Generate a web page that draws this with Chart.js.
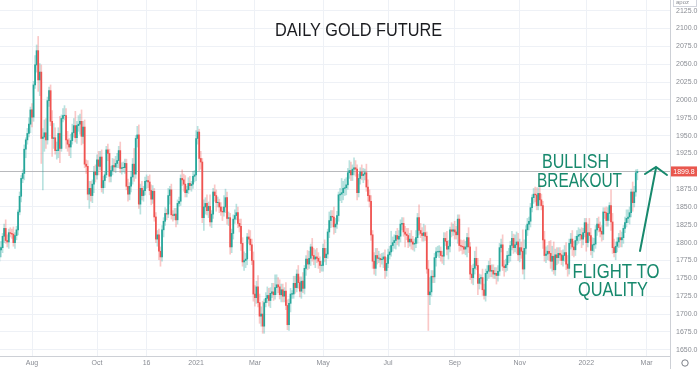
<!DOCTYPE html>
<html>
<head>
<meta charset="utf-8">
<script src="https://cdn.jsdelivr.net/npm/chart.js@4/dist/chart.umd.min.js"></script>
<style>
  body { margin: 0; background: #fff; }
  canvas { display: block; }
</style>
</head>
<body>
<canvas id="goldChart" width="700" height="369"></canvas>
<script>
// daily closes, one trading day per entry (Jul 1 2020 .. Feb 18 2022)
const closes = [
  // 2020 Jul
  1780,1790,1793,1809,1820,1803,1801,1814,1813,1812,1800,1810,1818,1843,1865,1890,1897,1931,1944,1953,1966,1986,
  // Aug
  1976,2021,2049,2069,2028,2039,1946,1948,1954,1944,1999,2013,1970,1946,1947,1929,1929,1953,1932,1974,1978,
  // Sep
  1978,1944,1938,1934,1943,1954,1964,1947,1964,1966,1970,1949,1962,1910,1907,1868,1876,1866,1882,1899,1895,
  // Oct
  1916,1907,1920,1877,1887,1895,1930,1925,1893,1901,1908,1906,1911,1915,1929,1904,1905,1905,1911,1879,1868,1879,
  // Nov
  1892,1910,1896,1946,1951,1854,1876,1866,1873,1886,1887,1885,1873,1861,1872,1836,1805,1811,1788,1780,
  // Dec
  1818,1830,1841,1840,1866,1874,1839,1838,1840,1832,1855,1858,1890,1888,1882,1870,1874,1883,1880,1882,1893,1895,
  // 2021 Jan
  1946,1955,1918,1913,1835,1850,1855,1845,1851,1829,1840,1871,1866,1856,1856,1850,1844,1843,1850,
  // Feb
  1863,1834,1835,1794,1813,1833,1838,1842,1827,1823,1799,1773,1775,1777,1808,1805,1797,1775,1728,
  // Mar
  1723,1738,1716,1697,1700,1683,1716,1722,1726,1719,1729,1731,1727,1737,1741,1738,1727,1734,1725,1732,1712,1685,1715,
  // Apr
  1728,1728,1743,1737,1756,1744,1732,1746,1736,1764,1777,1770,1778,1794,1782,1777,1780,1778,1774,1768,1768,
  // May
  1792,1779,1784,1815,1831,1837,1836,1822,1826,1838,1867,1868,1870,1876,1877,1881,1898,1901,1895,1903,
  // Jun
  1905,1903,1870,1890,1899,1894,1896,1898,1878,1866,1858,1811,1774,1764,1782,1778,1778,1776,1777,1780,1761,1771,
  // Jul
  1783,1787,1796,1800,1803,1810,1805,1809,1826,1827,1815,1812,1810,1801,1805,1801,1798,1799,1807,1835,1817,
  // Aug
  1813,1810,1814,1809,1763,1727,1731,1753,1752,1779,1787,1787,1788,1782,1781,1806,1802,1791,1795,1818,1816,1818,
  // Sep
  1815,1811,1833,1796,1795,1794,1791,1794,1807,1794,1756,1751,1764,1778,1768,1743,1750,1751,1734,1726,1757,
  // Oct
  1760,1768,1760,1761,1756,1757,1754,1760,1793,1797,1767,1765,1769,1782,1782,1796,1806,1793,1797,1801,1783,
  // Nov
  1793,1788,1763,1792,1818,1826,1830,1849,1863,1868,1867,1852,1869,1860,1852,1804,1782,1784,1788,1785,1774,
  // Dec
  1781,1762,1783,1779,1785,1783,1775,1782,1786,1770,1764,1799,1805,1794,1790,1803,1809,1811,1811,1805,1814,1828,
  // 2022 Jan
  1800,1814,1810,1789,1797,1798,1818,1826,1821,1816,1812,1843,1842,1831,1841,1852,1829,1793,1786,1795,
  // Feb
  1801,1807,1804,1807,1820,1828,1834,1836,1842,1871,1856,1871,1898,1899.8
];
const firstOpen = 1782;

// wick length above / below the body, same order as closes
const wickUp = [
  6,5,9,4,6,12,8,5,7,6,10,4,5,3,6,4,5,6,3,7,9,4,
  9,5,13,8,20,12,10,12,18,20,5,5,8,15,20,14,12,8,24,5,10,
  14,10,12,8,9,12,10,20,6,12,10,16,8,10,6,8,10,10,6,8,10,
  7,12,8,10,6,5,5,8,6,6,10,9,10,10,6,12,7,8,6,6,10,5,
  8,8,22,4,12,14,6,10,6,6,8,6,10,8,8,4,6,6,8,6,
  6,5,8,6,10,5,8,6,8,8,5,6,5,12,8,12,5,8,10,4,7,6,
  11,8,4,10,5,10,8,12,6,16,5,5,10,8,8,5,6,6,16,
  12,8,8,6,6,6,8,12,8,6,10,8,12,8,5,10,12,8,12,
  12,8,16,12,10,18,5,8,12,10,8,12,12,18,14,10,10,8,8,5,12,8,6,
  8,5,10,10,6,12,8,6,12,4,5,12,10,4,12,10,10,12,8,6,6,
  6,12,8,4,12,8,8,14,8,6,4,8,20,10,12,10,6,14,12,6,
  14,10,6,6,6,10,8,5,12,10,8,8,6,12,10,10,10,6,8,6,10,8,
  8,8,20,8,8,6,10,8,6,8,8,8,8,10,8,12,8,6,10,6,18,
  10,8,12,10,6,12,20,8,8,6,6,8,8,6,6,8,8,14,8,4,10,8,
  12,8,6,6,8,8,10,8,6,14,6,12,6,10,16,10,6,4,12,8,6,
  8,6,10,8,8,8,8,8,6,8,14,8,8,6,10,6,10,6,14,14,12,
  12,8,30,12,6,8,6,6,4,8,10,10,8,12,8,6,12,10,8,14,18,
  14,20,8,10,8,8,6,8,10,14,12,6,8,12,8,6,8,10,8,10,6,6,
  6,12,20,10,10,8,6,8,10,8,8,6,6,8,8,4,22,12,12,6,
  6,6,10,8,4,8,12,10,8,4,14,8,4,3
];
const wickDown = [
  8,6,10,7,9,4,7,9,5,6,5,8,6,7,4,8,6,9,12,6,5,12,
  14,6,5,10,16,22,35,72,20,12,6,8,6,25,14,5,12,10,20,4,5,
  6,12,10,12,15,5,6,6,8,8,14,12,10,5,10,8,20,8,10,12,10,
  6,12,5,6,8,10,4,10,8,8,6,6,8,6,10,6,8,6,8,5,10,8,
  8,10,10,6,12,6,14,6,8,6,10,8,6,8,6,6,5,10,12,13,
  6,10,6,8,5,12,6,8,6,10,6,4,6,8,10,6,6,5,6,8,6,8,
  8,8,17,10,7,18,10,6,10,6,8,6,8,12,6,8,6,12,6,
  8,8,10,10,8,8,6,6,6,8,10,6,12,10,8,6,8,6,10,
  12,8,6,10,14,10,10,6,6,8,10,6,8,6,10,8,6,10,8,8,6,7,8,
  12,6,6,8,6,8,8,10,6,8,10,8,6,10,8,8,12,6,10,10,8,
  8,6,10,6,8,10,14,10,8,6,8,8,12,10,10,10,6,8,8,8,
  8,10,10,6,8,6,10,8,6,8,8,8,10,8,10,8,6,10,6,12,11,8,
  6,6,6,8,8,12,8,10,8,8,6,18,6,8,6,10,8,10,6,8,6,
  6,8,8,6,6,50,14,6,8,8,12,6,8,8,10,12,6,8,14,8,8,6,
  10,6,12,8,6,10,6,8,14,8,8,8,10,8,6,16,8,8,8,5,8,
  10,10,8,8,6,6,12,8,6,6,6,12,6,8,10,8,6,8,6,12,8,
  10,10,7,14,8,8,8,8,6,8,10,6,6,8,6,12,8,10,8,10,10,
  14,6,8,10,8,8,6,8,8,8,11,8,8,12,10,8,6,10,8,12,8,6,
  12,6,8,6,10,10,6,8,6,8,10,8,8,8,8,10,12,8,6,10,
  8,8,10,10,8,6,6,6,10,6,12,6,6,10
];

// x tick labels at trading-day index
const tickIdx = [22, 64, 96, 128, 166, 210, 252, 295, 337, 380, 419];
const tickNames = ['Aug', 'Oct', '16', '2021', 'Mar', 'May', 'Jul', 'Sep', 'Nov', '2022', 'Mar'];
const priceTicks = [1650,1675,1700,1725,1750,1775,1800,1825,1850,1875,1900,1925,1950,1975,2000,2025,2050,2075,2100,2125];
const lastPrice = closes[closes.length - 1];

const UP = '#26a69a';
const DOWN = '#ef5350';
const TEAL = '#17896d';
const FONT = '"Liberation Sans", Arial, sans-serif';

const bodies = [];
const wicks = [];
const bodyColors = [];
const wickColors = [];
closes.forEach(function (c, i) {
  const o = i === 0 ? firstOpen : closes[i - 1];
  const hi = Math.max(o, c) + wickUp[i];
  const lo = Math.min(o, c) - wickDown[i];
  bodies.push({ x: i, y: [o, c === o ? c + 0.6 : c] });
  wicks.push({ x: i, y: [lo, hi] });
  const up = c >= o;
  bodyColors.push(up ? UP : DOWN);
  wickColors.push(up ? 'rgba(38,166,154,0.32)' : 'rgba(239,83,80,0.32)');
});

function fitText(ctx, text, cx, baseline, width, size, color) {
  ctx.save();
  ctx.font = size + 'px ' + FONT;
  const w = ctx.measureText(text).width;
  ctx.translate(cx, baseline);
  ctx.scale(width / w, 1);
  ctx.textAlign = 'center';
  ctx.textBaseline = 'alphabetic';
  ctx.fillStyle = color;
  ctx.fillText(text, 0, 0);
  ctx.restore();
}

const overlay = {
  id: 'overlay',
  beforeDatasetsDraw(chart) {
    const { ctx, chartArea, scales } = chart;
    const y = Math.round(scales.y.getPixelForValue(lastPrice)) + 0.5;
    ctx.save();
    ctx.strokeStyle = 'rgba(130,130,130,0.5)';
    ctx.lineWidth = 1;
    ctx.beginPath();
    ctx.moveTo(chartArea.left, y);
    ctx.lineTo(chartArea.right, y);
    ctx.stroke();
    ctx.restore();
  },
  afterDraw(chart) {
    const { ctx, chartArea, scales } = chart;
    ctx.save();
    // frame
    ctx.strokeStyle = '#cdd0d6';
    ctx.lineWidth = 1;
    ctx.beginPath();
    ctx.moveTo(chartArea.right + 0.5, 0);
    ctx.lineTo(chartArea.right + 0.5, chart.height);
    ctx.moveTo(0, chartArea.bottom + 0.5);
    ctx.lineTo(chartArea.right, chartArea.bottom + 0.5);
    ctx.stroke();

    // last price tag
    const py = scales.y.getPixelForValue(lastPrice);
    ctx.fillStyle = '#e9574e';
    ctx.fillRect(chartArea.right + 1, py - 5, 26, 10);
    ctx.fillStyle = '#fff';
    ctx.font = '7px ' + FONT;
    ctx.textAlign = 'center';
    ctx.textBaseline = 'middle';
    ctx.fillText(lastPrice.toFixed(1), chartArea.right + 14, py + 0.5);

    // currency box (cut off at top)
    ctx.strokeStyle = '#d1d4dc';
    ctx.strokeRect(673.5, -4.5, 23, 11);
    ctx.fillStyle = '#8a8d94';
    ctx.font = '6px ' + FONT;
    ctx.textAlign = 'left';
    ctx.textBaseline = 'alphabetic';
    ctx.fillText('apoz', 676, 4);

    // settings circle
    ctx.strokeStyle = '#7b7e86';
    ctx.beginPath();
    ctx.arc(685, 363, 3.2, 0, Math.PI * 2);
    ctx.stroke();

    // title + notes
    fitText(ctx, 'DAILY GOLD FUTURE', 358.5, 36, 167, 18, '#1b1c20');
    fitText(ctx, 'BULLISH', 575.5, 168, 67, 19.5, TEAL);
    fitText(ctx, 'BREAKOUT', 579.5, 186.5, 85, 19.5, TEAL);
    fitText(ctx, 'FLIGHT TO', 616, 277.5, 87, 19.5, TEAL);
    fitText(ctx, 'QUALITY', 613, 295.5, 70, 19.5, TEAL);

    // arrow
    ctx.strokeStyle = TEAL;
    ctx.lineWidth = 2;
    ctx.lineCap = 'round';
    ctx.beginPath();
    ctx.moveTo(640, 251);
    ctx.lineTo(656, 168);
    ctx.moveTo(645, 174);
    ctx.lineTo(656, 167);
    ctx.lineTo(667, 175);
    ctx.stroke();
    ctx.restore();
  }
};

new Chart(document.getElementById('goldChart'), {
  type: 'bar',
  data: {
    datasets: [{
      data: bodies,
      backgroundColor: bodyColors,
      barThickness: 1.1,
      grouped: false,
      borderWidth: 0
    }, {
      data: wicks,
      backgroundColor: wickColors,
      barThickness: 1,
      grouped: false,
      borderWidth: 0
    }]
  },
  options: {
    responsive: false,
    animation: false,
    events: [],
    layout: { padding: 0 },
    plugins: { legend: { display: false }, tooltip: { enabled: false } },
    scales: {
      x: {
        type: 'linear',
        min: 1.33,
        max: 434.1,
        offset: false,
        grid: { color: '#eef1f6', drawTicks: false, offset: false },
        border: { display: false },
        afterBuildTicks: function (s) { s.ticks = tickIdx.map(v => ({ value: v })); },
        afterFit: function (s) { s.height = 13; s.paddingLeft = 0; s.paddingRight = 0; },
        ticks: {
          autoSkip: false,
          maxRotation: 0,
          padding: 3,
          color: '#8a8d94',
          font: { size: 7, family: FONT },
          callback: function (v) { return tickNames[tickIdx.indexOf(v)]; }
        }
      },
      y: {
        position: 'right',
        min: 1641.2,
        max: 2140,
        grid: { color: '#eef1f6', drawTicks: false },
        border: { display: false },
        afterBuildTicks: function (s) { s.ticks = priceTicks.map(v => ({ value: v })); },
        afterFit: function (s) { s.width = 30; s.paddingTop = 0; s.paddingBottom = 0; },
        ticks: {
          autoSkip: false,
          padding: 6,
          color: '#8a8d94',
          font: { size: 7, family: FONT },
          callback: function (v) { return v.toFixed(1); }
        }
      }
    }
  },
  plugins: [overlay]
});
</script>
</body>
</html>
